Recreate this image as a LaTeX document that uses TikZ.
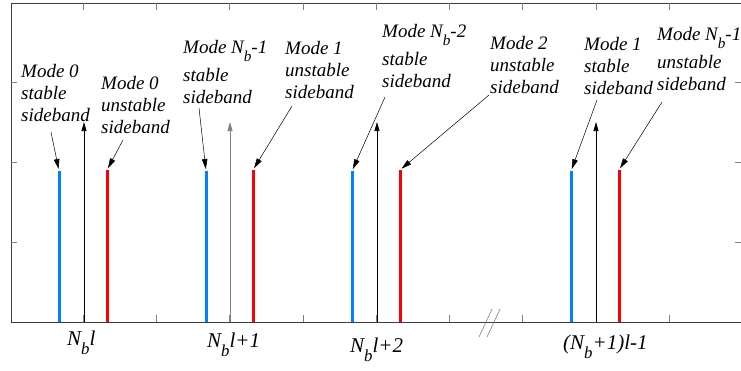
\documentclass[tikz,border=0pt]{standalone}
\usepackage{fontspec}
\setmainfont{Liberation Serif}
\usetikzlibrary{arrows.meta, positioning, calc}
\definecolor{sideblue}{RGB}{0,130,255}
\definecolor{framegray}{RGB}{60,60,60}
\newcommand{\labfont}{\itshape\fontsize{19}{22}\selectfont}
\newcommand{\axfont}{\itshape\fontsize{21}{24}\selectfont}
\newcommand{\Nb}{N\raisebox{-0.45em}{\scalebox{0.8}{b}}}

\begin{document}
\begin{tikzpicture}[x=1pt, y=-1pt,
    lbl/.style={font=\labfont, align=left, inner sep=0pt, anchor=north west},
    xlbl/.style={font=\axfont, inner sep=0pt, anchor=base west},
    frame/.style={draw=framegray, line width=0.9pt},
    axtick/.style={draw=gray, line width=0.8pt},
    stable/.style={draw=sideblue, line width=3pt},
    unstable/.style={draw=red, line width=3pt},
    carrier/.style={-{Triangle[length=9pt, width=5pt]}, line width=0.7pt},
    pointer/.style={-{Triangle[length=10pt, width=5.5pt]}, line width=0.5pt, shorten >=2pt}]
    \useasboundingbox (0,0) rectangle (741,370);

    % axes box and ticks
    \draw[frame] (741,3) -- (11,3) -- (11,322) -- (741,322);
    \foreach \k in {0,...,8} {
        \draw[axtick] ({83+73.3*\k},3) -- ++(0,7);
        \draw[axtick] ({83+73.3*\k},322) -- ++(0,-7);
    }
    \foreach \y in {82,162,242} {
        \draw[axtick] (11,\y) -- ++(6,0);
        \draw[axtick] (741,\y) -- ++(-6,0);
    }

    % sidebands around each carrier
    \foreach \i/\s/\c/\u/\col in {1/59/84/107/black, 2/206/230/253/gray, 3/352/377/400/black, 4/571/596/619/black} {
        \coordinate (s\i) at (\s,171);
        \coordinate (u\i) at (\u,170);
        \coordinate (c\i) at (\c,122);
        \draw[stable] (\s,322) -- (s\i);
        \draw[unstable] (\u,322) -- (u\i);
        \draw[carrier, \col] (\c,322) -- (c\i);
    }

    % axis break
    \draw[gray, line width=0.6pt] (479,337) -- (492,309);
    \draw[gray, line width=0.6pt] (487,337) -- (500,309);

    % mode labels
    \node[lbl] (m0s) at (21,64) {Mode 0\\stable\\sideband};
    \node[lbl] (m0u) at (101,76) {Mode 0\\unstable\\sideband};
    \node[lbl] (mbs) at (183,40) {Mode \Nb-1\\[6pt]stable\\sideband};
    \node[lbl] (m1u) at (285,41) {Mode 1\\unstable\\sideband};
    \node[lbl] (mcs) at (382,24) {Mode \Nb-2\\[6pt]stable\\sideband};
    \node[lbl] (m2u) at (490,36) {Mode 2\\unstable\\sideband};
    \node[lbl] (m1s) at (584,37) {Mode 1\\stable\\sideband};
    \node[lbl] (mbu) at (657,27) {Mode \Nb-1\\[6pt]unstable\\sideband};

    \coordinate (p1) at (51,132);
    \coordinate (p2) at (123,140);
    \coordinate (p3) at (199,108);
    \coordinate (p4) at (292,106);
    \coordinate (p5) at (385,97);
    \coordinate (p6) at (489,95);
    \coordinate (p7) at (597,100);
    \coordinate (p8) at (662,102);
    \draw[pointer] (p1) -- (s1);
    \draw[pointer] (p2) -- (u1);
    \draw[pointer] (p3) -- (s2);
    \draw[pointer] (p4) -- (u2);
    \draw[pointer] (p5) -- (s3);
    \draw[pointer] (p6) -- (u3);
    \draw[pointer] (p7) -- (s4);
    \draw[pointer] (p8) -- (u4);

    % harmonic labels
    \node[xlbl] (h0) at (67,345) {\Nb l};
    \node[xlbl] (h1) at (207,347) {\Nb l+1};
    \node[xlbl] (h2) at (350,352) {\Nb l+2};
    \node[xlbl] (hn) at (563,349) {(\Nb+1)l-1};
\end{tikzpicture}
\end{document}
